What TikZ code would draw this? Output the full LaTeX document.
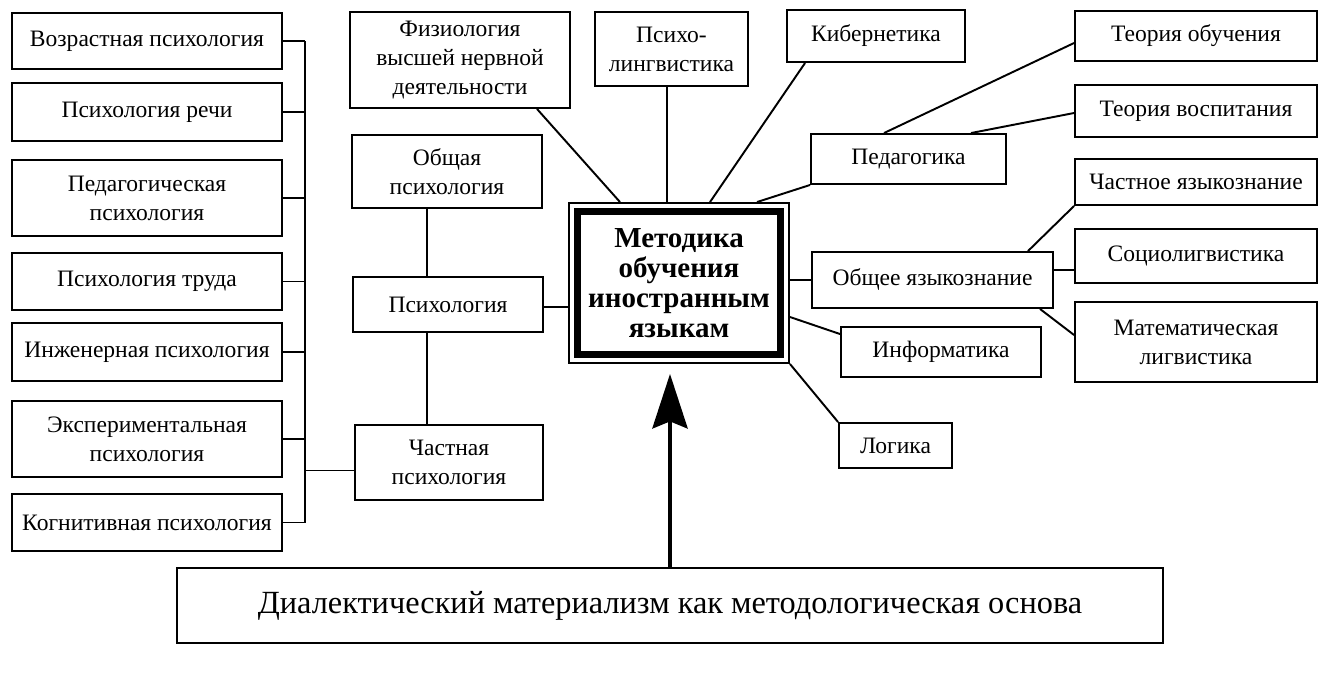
\documentclass[tikz,border=0pt]{standalone}
\usepackage{fontspec}
\setmainfont{Liberation Serif}
\usetikzlibrary{arrows.meta,positioning,calc}
\tikzset{
  discbox/.style={
    rectangle, draw, line width=1.1pt, inner sep=0pt, align=center,
    font=\fontsize{13.4}{16.5}\selectfont
  },
  mainbox/.style={
    rectangle, draw, line width=1.1pt, inner sep=0pt, align=center,
    font=\bfseries\fontsize{16.5}{17.2}\selectfont
  },
  basebox/.style={
    rectangle, draw, line width=1.1pt, inner sep=0pt, align=center,
    font=\fontsize{18.4}{20}\selectfont
  },
  link/.style={line width=1.1pt},
  basearrow/.style={
    -{Stealth[length=31pt,width=20pt,inset=4pt]}, line width=2.3pt
  },
}
\begin{document}
\begin{tikzpicture}[x=0.02cm, y=-0.02cm]
  \useasboundingbox (0,0) rectangle (1324,673);
  % left column: branches of psychology
  \node[discbox, minimum width=5.4cm, minimum height=1.12cm] (voz) at (147,41) {Возрастная психология};
  \node[discbox, minimum width=5.4cm, minimum height=1.16cm] (rech) at (147,112) {Психология речи};
  \node[discbox, minimum width=5.4cm, minimum height=1.52cm] (pedpsy) at (147,198) {Педагогическая\\психология};
  \node[discbox, minimum width=5.4cm, minimum height=1.14cm] (trud) at (147,281.5) {Психология труда};
  \node[discbox, minimum width=5.4cm, minimum height=1.16cm] (inzh) at (147,352) {Инженерная психология};
  \node[discbox, minimum width=5.4cm, minimum height=1.52cm] (eksp) at (147,439) {Экспериментальная\\психология};
  \node[discbox, minimum width=5.4cm, minimum height=1.14cm] (kogn) at (147,522.5) {Когнитивная психология};
  \coordinate (bus) at (305,0);

  % middle column
  \node[discbox, minimum width=3.80cm, minimum height=1.46cm] (obsh) at (447,171.5) {Общая\\психология};
  \node[discbox, minimum width=3.80cm, minimum height=1.10cm] (psih) at (448,304.5) {Психология};
  \node[discbox, minimum width=3.76cm, minimum height=1.50cm] (chast) at (449,462.5) {Частная\\психология};
  \coordinate (spine) at (427,0);

  % top row
  \node[discbox, minimum width=4.40cm, minimum height=1.92cm] (fiz) at (460,60) {Физиология\\высшей нервной\\деятельности};
  \node[discbox, minimum width=3.06cm, minimum height=1.48cm] (psling) at (671.5,49) {Психо-\\лингвистика};
  \node[discbox, minimum width=3.56cm, minimum height=1.04cm] (kib) at (876,36) {Кибернетика};

  % right side
  \node[discbox, minimum width=4.84cm, minimum height=1.00cm] (teob) at (1196,36) {Теория обучения};
  \node[discbox, minimum width=4.84cm, minimum height=1.04cm] (tvos) at (1196,111) {Теория воспитания};
  \node[discbox, minimum width=3.90cm, minimum height=1.00cm] (pedag) at (908.5,159) {Педагогика};
  \node[discbox, minimum width=4.84cm, minimum height=0.92cm] (chyaz) at (1196,182) {Частное языкознание};
  \node[discbox, minimum width=4.82cm, minimum height=1.12cm] (obyaz) at (932.5,280) {Общее языкознание};
  \node[discbox, minimum width=4.84cm, minimum height=1.08cm] (soc) at (1196,256) {Социолигвистика};
  \node[discbox, minimum width=4.84cm, minimum height=1.60cm] (mat) at (1196,342) {Математическая\\лигвистика};
  \node[discbox, minimum width=4.00cm, minimum height=1.00cm] (inf) at (941,352) {Информатика};
  \node[discbox, minimum width=2.26cm, minimum height=0.90cm] (logic) at (895.5,445.5) {Логика};

  % centre and base
  \node[mainbox, minimum width=4.40cm, minimum height=3.20cm] (main) at (679,283) {Методика\\обучения\\иностранным\\языкам};
  \draw[line width=4pt] ([shift={(9,9)}]main.north west) rectangle ([shift={(-9,-9)}]main.south east);
  \node[basebox, minimum width=19.72cm, minimum height=1.50cm] (base) at (670,605.5) {Диалектический материализм как методологическая основа};

  % psychology bus
  \draw[link] (voz.east) -- (voz.east -| bus);
  \draw[link] (rech.east) -- (rech.east -| bus);
  \draw[link] (pedpsy.east) -- (pedpsy.east -| bus);
  \draw[link] (trud.east) -- (trud.east -| bus);
  \draw[link] (inzh.east) -- (inzh.east -| bus);
  \draw[link] (eksp.east) -- (eksp.east -| bus);
  \draw[link] (kogn.east) -- (kogn.east -| bus);
  \draw[link] (voz.east -| bus) -- (kogn.east -| bus);
  \draw[link] ($(chast.west)+(0,8)$) -- ($(chast.west -| bus)+(0,8)$);

  \draw[link] (obsh.south -| spine) -- (psih.north -| spine);
  \draw[link] (psih.south -| spine) -- (chast.north -| spine);
  \draw[link] ($(psih.east)+(0,2.5)$) -- ($(psih.east -| main.west)+(0,2.5)$);

  % links into the centre
  \draw[link] ($(fiz.south)+(77,0)$) -- ($(main.north)+(-59,0)$);
  \draw[link] ($(psling.south)+(-4.5,0)$) -- ($(psling.south |- main.north)+(-4.5,0)$);
  \draw[link] ($(kib.south west)+(19,0)$) -- ($(main.north)+(31,0)$);
  \draw[link] (pedag.south west) -- ($(main.north)+(78,0)$);
  \draw[link] (obyaz.west -| main.east) -- (obyaz.west);
  \draw[link] ($(main.east)+(0,34)$) -- ($(inf.north west)+(0,8)$);
  \draw[link] (main.south east) -- (logic.north west);

  % right branches
  \draw[link] ($(pedag.north)+(-24.5,0)$) -- ($(teob.west)+(0,7)$);
  \draw[link] ($(pedag.north)+(62.5,0)$) -- ($(tvos.west)+(0,2)$);
  \draw[link] ($(obyaz.north)+(95.5,0)$) -- (chyaz.south west);
  \draw[link] ($(obyaz.east)+(0,-10)$) -- ($(obyaz.east -| soc.west)+(0,-10)$);
  \draw[link] ($(obyaz.south)+(107.5,0)$) -- ($(mat.west)+(0,-7)$);

  % base arrow
  \draw[basearrow, shorten >=0.2cm] (base.north) -- (base.north |- main.south);
\end{tikzpicture}
\end{document}
